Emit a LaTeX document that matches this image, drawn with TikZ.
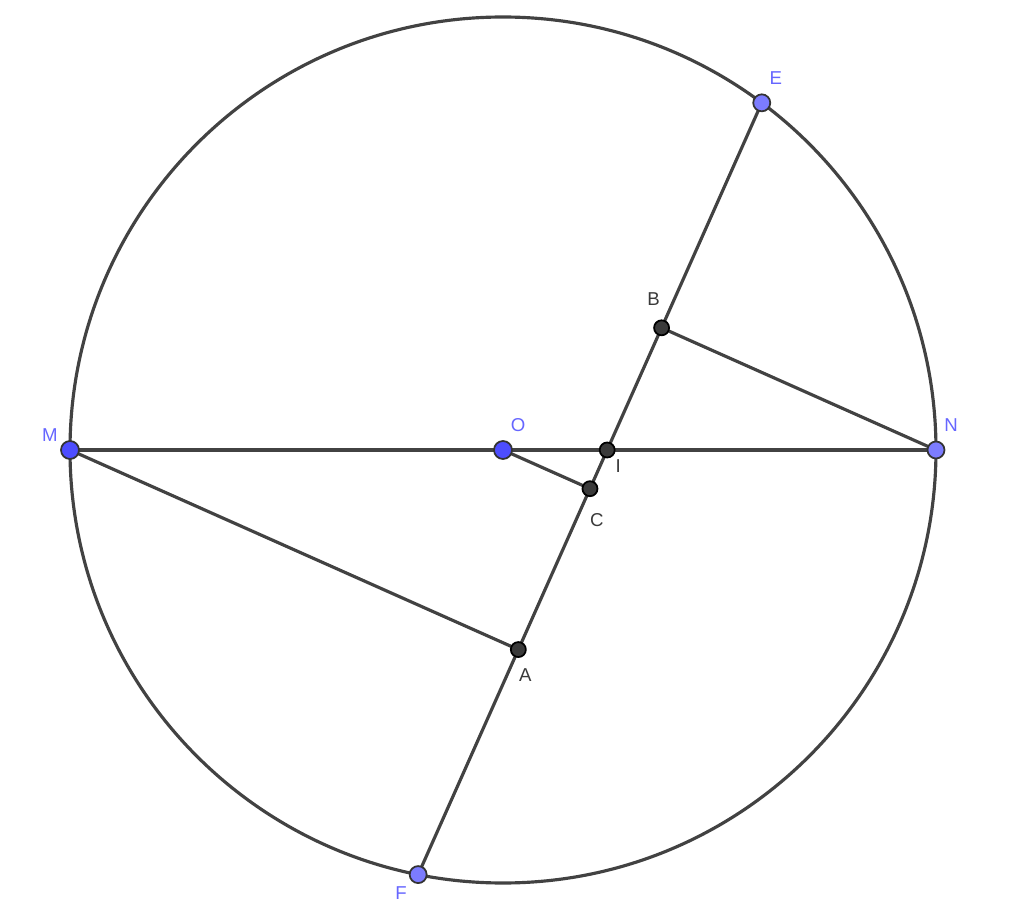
\documentclass[tikz,border=0pt]{standalone}
\usepackage{fontspec}
\setsansfont{Liberation Sans}
\usetikzlibrary{calc}

\definecolor{lineGray}{HTML}{424242}
\definecolor{ptBlue}{HTML}{4D4DFF}
\definecolor{ptLight}{HTML}{7C7CFF}
\definecolor{lblBlue}{HTML}{6666FF}
\definecolor{ptDark}{HTML}{3A3A3A}

\begin{document}
\begin{tikzpicture}[line width=0.9pt, draw=lineGray]

		% Define styles
		\tikzstyle{bluept} = [circle, draw=black!80, line width=0.5pt, fill=ptBlue, inner sep=0pt, minimum size=0.18cm]
		\tikzstyle{lightpt} = [circle, draw=black!80, line width=0.5pt, fill=ptLight, inner sep=0pt, minimum size=0.17cm]
		\tikzstyle{darkpt} = [circle, draw=black, line width=0.5pt, fill=ptDark, inner sep=0pt, minimum size=0.15cm]
		\tikzstyle{lblblue} = [text=lblBlue, font=\sffamily\fontsize{5.3}{6}\selectfont, inner sep=0pt]
		\tikzstyle{lblgray} = [text=ptDark, font=\sffamily\fontsize{5.3}{6}\selectfont, inner sep=0pt]

		\useasboundingbox (-5.03,-4.62) rectangle (5.21,4.50);

		% Points
		\coordinate (O) at (0,0);
		\coordinate (M) at (-4.33,0);
		\coordinate (N) at (4.33,0);
		\coordinate (E) at (53.3:4.33);
		\coordinate (F) at (258.7:4.33);
		\coordinate (I) at (intersection of E--F and M--N);
		\coordinate (A) at ($(E)!(M)!(F)$);
		\coordinate (B) at ($(E)!(N)!(F)$);
		\coordinate (C) at ($(E)!(O)!(F)$);

		% Lines
		\draw[lineGray] (O) circle (4.33);
		\draw[lineGray] (M) -- (N);
		\draw[lineGray] (E) -- (F);
		\draw[lineGray] (M) -- (A);
		\draw[lineGray] (N) -- (B);
		\draw[lineGray] (O) -- (C);

		% Nodes
		\node[bluept] (pM) at (M) {};
		\node[bluept] (pO) at (O) {};
		\node[lightpt] (pN) at (N) {};
		\node[lightpt] (pE) at (E) {};
		\node[lightpt] (pF) at (F) {};
		\node[darkpt] (pA) at (A) {};
		\node[darkpt] (pB) at (B) {};
		\node[darkpt] (pC) at (C) {};
		\node[darkpt] (pI) at (I) {};

		% Labels
		\node[lblblue] (lM) at ($(M)+(-0.20,0.15)$) {M};
		\node[lblblue] (lO) at ($(O)+(0.15,0.25)$) {O};
		\node[lblblue] (lN) at ($(N)+(0.15,0.25)$) {N};
		\node[lblblue] (lE) at ($(E)+(0.14,0.25)$) {E};
		\node[lblblue] (lF) at ($(F)+(-0.17,-0.19)$) {F};
		\node[lblgray] (lA) at ($(A)+(0.07,-0.26)$) {A};
		\node[lblgray] (lB) at ($(B)+(-0.08,0.29)$) {B};
		\node[lblgray] (lC) at ($(C)+(0.07,-0.31)$) {C};
		\node[lblgray] (lI) at ($(I)+(0.11,-0.16)$) {I};

\end{tikzpicture}
\end{document}
